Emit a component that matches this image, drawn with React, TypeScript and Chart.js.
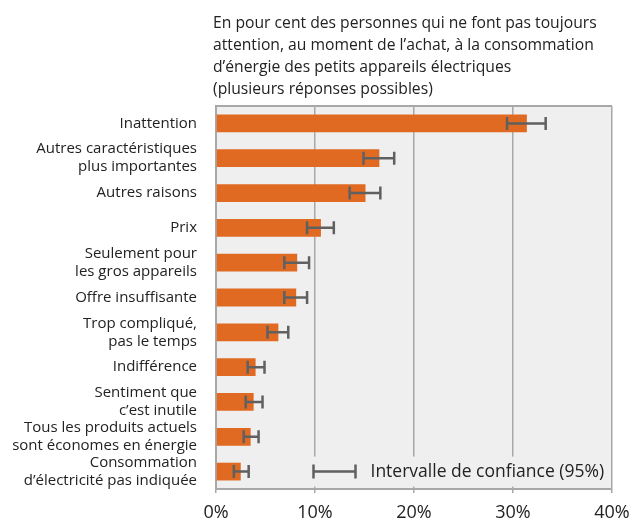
import React, { useEffect, useRef } from "react";
import { Chart, registerables } from "chart.js";

Chart.register(...registerables);

const categories: (string | string[])[] = [
  "Inattention",
  ["Autres caractéristiques", "plus importantes"],
  "Autres raisons",
  "Prix",
  ["Seulement pour", "les gros appareils"],
  "Offre insuffisante",
  ["Trop compliqué,", "pas le temps"],
  "Indifférence",
  ["Sentiment que", "c’est inutile"],
  ["Tous les produits actuels", "sont économes en énergie"],
  ["Consommation", "d’électricité pas indiquée"],
];
const values = [31.4, 16.5, 15.1, 10.6, 8.2, 8.1, 6.3, 4.0, 3.8, 3.5, 2.5];
const errLow = [29.4, 14.9, 13.5, 9.2, 6.9, 6.9, 5.2, 3.2, 3.0, 2.8, 1.8];
const errHigh = [33.3, 18.0, 16.6, 11.9, 9.4, 9.2, 7.3, 4.9, 4.7, 4.3, 3.3];
const xTicks = [0, 10, 20, 30, 40];
const titleLines = [
  "En pour cent des personnes qui ne font pas toujours",
  "attention, au moment de l’achat, à la consommation",
  "d’énergie des petits appareils électriques",
  "(plusieurs réponses possibles)",
];
const legendText = "Intervalle de confiance (95%)";

const FONT = "'Open Sans', 'DejaVu Sans', sans-serif";
const GRID = "#a8a8a8";
const ERR = "#606060";

export default function App() {
  const ref = useRef<HTMLCanvasElement>(null);
  useEffect(() => {
    if (!ref.current) return;
    const deco = {
      id: "deco",
      beforeDraw(chart: any) {
        const { ctx, chartArea: a } = chart;
        ctx.save();
        ctx.fillStyle = "#efefef";
        ctx.fillRect(a.left, a.top, a.right - a.left, a.bottom - a.top);
        ctx.fillStyle = "#222";
        ctx.font = `15.7px ${FONT}`;
        ctx.textBaseline = "middle";
        ctx.textAlign = "left";
        titleLines.forEach((l, i) => ctx.fillText(l, 213, 24 + i * 21.7));
        ctx.restore();
      },
      afterDatasetsDraw(chart: any) {
        const { ctx, chartArea: a, scales } = chart;
        const x = scales.x;
        const y = scales.y;
        ctx.save();
        // legend box (covers gridline)
        const ly = y.getPixelForValue(10);
        ctx.fillStyle = "#efefef";
        ctx.fillRect(x.getPixelForValue(9.3), ly - 15, x.getPixelForValue(39.6) - x.getPixelForValue(9.3), 30);
        // top border
        ctx.strokeStyle = GRID;
        ctx.lineWidth = 2;
        ctx.beginPath();
        ctx.moveTo(a.left, a.top);
        ctx.lineTo(a.right, a.top);
        ctx.stroke();
        // error bars
        ctx.strokeStyle = ERR;
        ctx.lineWidth = 2.5;
        values.forEach((_, i) => {
          const yc = y.getPixelForValue(i);
          const x1 = x.getPixelForValue(errLow[i]);
          const x2 = x.getPixelForValue(errHigh[i]);
          ctx.beginPath();
          ctx.moveTo(x1, yc);
          ctx.lineTo(x2, yc);
          ctx.moveTo(x1, yc - 6.5);
          ctx.lineTo(x1, yc + 6.5);
          ctx.moveTo(x2, yc - 6.5);
          ctx.lineTo(x2, yc + 6.5);
          ctx.stroke();
        });
        // legend symbol
        const lx1 = x.getPixelForValue(10) - 1.5;
        const lx2 = lx1 + 42;
        ctx.beginPath();
        ctx.moveTo(lx1, ly);
        ctx.lineTo(lx2, ly);
        ctx.moveTo(lx1, ly - 7);
        ctx.lineTo(lx1, ly + 7);
        ctx.moveTo(lx2, ly - 7);
        ctx.lineTo(lx2, ly + 7);
        ctx.stroke();
        ctx.fillStyle = "#222";
        ctx.font = `17.5px ${FONT}`;
        ctx.textBaseline = "middle";
        ctx.textAlign = "left";
        ctx.fillText(legendText, lx2 + 15, ly);
        ctx.restore();
      },
    };
    const chart = new Chart(ref.current, {
      type: "bar",
      data: {
        labels: categories as any,
        datasets: [
          {
            data: values,
            backgroundColor: "#e06a22",
            barPercentage: 0.51,
            categoryPercentage: 1,
          },
        ],
      },
      options: {
        indexAxis: "y",
        animation: false,
        responsive: false,
        maintainAspectRatio: false,
        layout: { padding: { top: 106, right: 18, left: 0, bottom: 0 } },
        plugins: { legend: { display: false }, tooltip: { enabled: false }, title: { display: false } },
        scales: {
          x: {
            min: 0,
            max: 40,
            afterBuildTicks: (s: any) => {
              s.ticks = xTicks.map((v) => ({ value: v }));
            },
            afterFit: (s: any) => {
              s.height = 31;
              s.paddingRight = 0;
              s.paddingLeft = 0;
            },
            grid: { color: GRID, lineWidth: 1.5, tickLength: 4, drawTicks: true },
            border: { display: true, color: GRID, width: 2 },
            ticks: {
              color: "#222",
              font: { family: FONT, size: 18 },
              padding: 9,
              maxRotation: 0,
              callback: (v: any) => `${v}%`,
            },
          },
          y: {
            afterFit: (s: any) => {
              s.width = 216;
            },
            grid: { display: false },
            border: { display: true, color: GRID, width: 2 },
            ticks: {
              color: "#222",
              font: { family: FONT, size: 15, lineHeight: 1.2 },
              padding: 11,
              autoSkip: false,
            },
          },
        },
      },
      plugins: [deco],
    });
    return () => chart.destroy();
  }, []);
  return (
    <div style={{ position: "fixed", left: 0, top: 0, width: 630, height: 520 }}>
      <canvas ref={ref} width={630} height={520} style={{ width: 630, height: 520 }} />
    </div>
  );
}
